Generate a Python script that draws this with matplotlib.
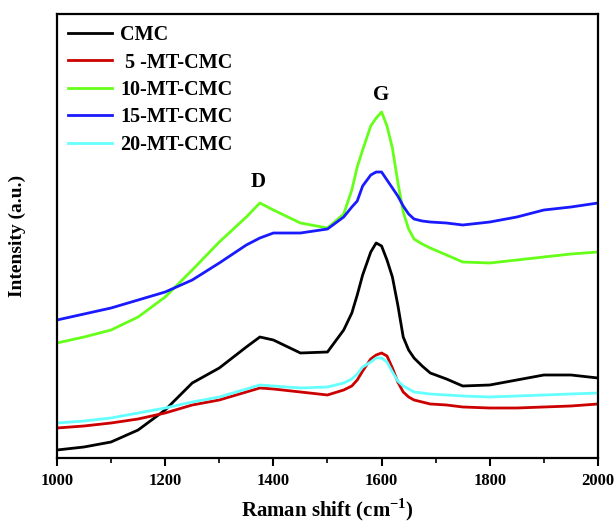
import matplotlib
matplotlib.use("Agg")
import matplotlib.pyplot as plt
from matplotlib.ticker import MultipleLocator, NullLocator

# wavenumber grid (cm-1) and intensities (a.u.)
shift = [1000, 1050, 1100, 1150, 1200, 1250, 1300, 1350, 1375, 1400, 1450, 1500,
         1530, 1545, 1555, 1565, 1580, 1590, 1600, 1610, 1620, 1630, 1640, 1650,
         1660, 1675, 1690, 1720, 1750, 1800, 1850, 1900, 1950, 2000]

cmc = [8, 11, 16, 28, 48, 75, 90, 111, 121, 118, 105, 106,
       128, 145, 163, 183, 206, 215, 212, 198, 181, 153, 121, 108,
       100, 92, 85, 79, 72, 73, 78, 83, 83, 80]
mt5 = [30, 32, 35, 39, 45, 53, 58, 66, 70, 69, 66, 63,
       68, 72, 78, 87, 99, 103, 105, 102, 90, 76, 66, 61,
       58, 56, 54, 53, 51, 50, 50, 51, 52, 54]
mt10 = [115, 121, 128, 141, 161, 188, 216, 241, 255, 248, 235, 230,
        244, 268, 291, 308, 332, 340, 346, 332, 310, 276, 246, 229,
        219, 214, 210, 203, 196, 195, 198, 201, 204, 206]
mt15 = [138, 144, 150, 158, 166, 178, 195, 213, 220, 225, 225, 229,
        241, 251, 257, 272, 283, 286, 286, 278, 270, 262, 252, 244,
        239, 237, 236, 235, 233, 236, 241, 248, 251, 255]
mt20 = [35, 37, 40, 45, 50, 56, 61, 69, 73, 72, 70, 71,
        75, 79, 84, 91, 96, 100, 100, 96, 86, 77, 72, 69,
        66, 65, 64, 63, 62, 61, 62, 63, 64, 65]

labels = ["CMC", " 5 -MT-CMC", "10-MT-CMC", "15-MT-CMC", "20-MT-CMC"]
colors = ["#000000", "#cc0000", "#66ff1a", "#1a1aff", "#66ffff"]

plt.rcParams["font.family"] = ["Liberation Serif", "DejaVu Serif"]
plt.rcParams["font.weight"] = "bold"
plt.rcParams["mathtext.fontset"] = "custom"
plt.rcParams["mathtext.bf"] = "Liberation Serif:bold"
plt.rcParams["mathtext.rm"] = "Liberation Serif:bold"

fig = plt.figure(figsize=(6.14, 5.23), dpi=100)
ax = fig.add_axes([0.0928, 0.1243, 0.8811, 0.8489])

for y, lab, c in zip([cmc, mt5, mt10, mt15, mt20], labels, colors):
    ax.plot(shift, y, color=c, lw=2.0, label=lab)

ax.text(1371, 276, "D", ha="center", va="center", fontsize=15, fontweight="bold")
ax.text(1599, 363, "G", ha="center", va="center", fontsize=15, fontweight="bold")

ax.set_xlim(1000, 2000)
ax.set_ylim(0, 444)
ax.xaxis.set_major_locator(MultipleLocator(200))
ax.xaxis.set_minor_locator(MultipleLocator(100))
ax.yaxis.set_major_locator(NullLocator())
ax.tick_params(axis="x", which="major", direction="out", length=6, width=1.5,
               labelsize=12, pad=5)
ax.tick_params(axis="x", which="minor", direction="out", length=3.5, width=1.2)
for s in ax.spines.values():
    s.set_linewidth(1.6)

ax.set_xlabel("Raman shift (cm$^{-1}$)", fontsize=15, fontweight="bold", labelpad=5)
ax.set_ylabel("Intensity (a.u.)", fontsize=14, fontweight="bold", labelpad=22)

ax.legend(loc="upper left", frameon=False, handlelength=2.2,
          handletextpad=0.4, labelspacing=0.37, borderaxespad=0.15,
          prop={"weight": "bold", "size": 14.5})

fig.savefig("out.png", dpi=100)
